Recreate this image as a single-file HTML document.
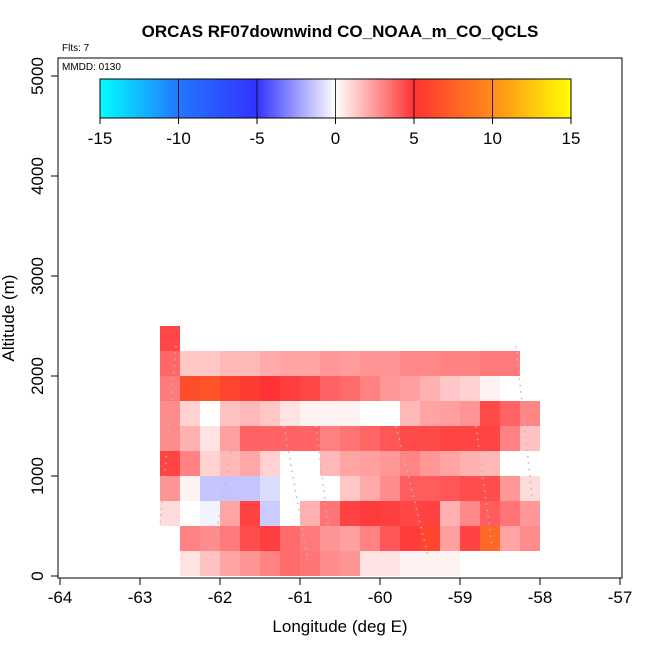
<!DOCTYPE html>
<html><head><meta charset="utf-8"><style>
body{margin:0;background:#fff;font-family:"Liberation Sans",sans-serif}
svg text{font-family:"Liberation Sans",sans-serif}
</style></head><body>
<svg id="chart" width="650" height="650" xmlns="http://www.w3.org/2000/svg">
<rect width="650" height="650" fill="#fff"/>
<text x="340" y="37" text-anchor="middle" font-size="17" font-weight="bold">ORCAS RF07downwind CO_NOAA_m_CO_QCLS</text>
<text x="62" y="51" font-size="10">Flts: 7</text>
<g id="cells"></g>
<g id="tracks"></g>
<rect x="58" y="58" width="564" height="520" fill="none" stroke="#000" stroke-width="1"/>
<text x="62" y="70" font-size="10">MMDD: 0130</text>
<g id="cbar"></g>
<g id="axes"></g>
<text x="340" y="632" text-anchor="middle" font-size="17">Longitude (deg E)</text>
<text transform="translate(14,318) rotate(-90)" text-anchor="middle" font-size="17">Altitude (m)</text>
</svg>
<script>
const lonStart=-62.75, lonStep=0.25, altStep=250;
// rows from bottom (0-250 m) to top (2250-2500 m); null = no data
const row0=[null,0.3,0.9,1.6,2,2.5,3.2,2.9,2.2,2,0.3,0.3,0.1,0.1,0.1,null,null,null,null];
const row1=[null,2.5,2.2,2.7,4.1,4.6,3.2,2.7,2,1.7,2.5,3.8,4.7,6,1.7,4.5,8,1.6,2.2];
const row2=[0.4,0,-0.1,1.6,4.5,-0.7,0,1.3,2.9,4.5,4.7,4.6,4.3,4.5,1.3,2.3,3.6,2.9,1.9];
const row3=[2,0.1,-0.8,-0.85,-0.85,-0.4,0,0,0,0.8,1.4,2.2,3.6,3.6,3.8,4.1,4.1,1.9,0.4];
const row4=[4.4,2.5,0.6,1.1,1.5,0.6,0,0,1.1,1.6,1.7,1.9,2.4,1.9,1.6,1.3,1.1,0,0];
const row5=[2.2,1.3,0.3,1.7,3.4,3.4,3.4,3.4,2.5,2.9,3.3,3.8,4.2,4.2,4.4,4.4,4.4,2.5,0.9];
const row6=[2.2,0.6,0,0.9,1.1,0.8,0.3,0.1,0.1,0.1,0,0,1.1,1.6,1.7,2,4.2,3.4,2.4];
const row7=[2.7,6.5,6.8,6,5.5,5,4.6,4.3,3.4,3.2,2.5,1.9,1.7,1.3,0.8,0.6,0.1,0,null];
const row8=[3.3,0.8,0.8,1.1,1.1,1.4,1.6,1.6,1.9,1.8,2,2,2.3,2.3,2.5,2.5,2.7,2.7,null];
const row9=[4.3,null,null,null,null,null,null,null,null,null,null,null,null,null,null,null,null,null,null];
const rows=[row0,row1,row2,row3,row4,row5,row6,row7,row8,row9];
const xTicks=[-64,-63,-62,-61,-60,-59,-58,-57];
const yTicks=[0,1000,2000,3000,4000,5000];
const cbTicks=[-15,-10,-5,0,5,10,15];

const NS="http://www.w3.org/2000/svg";
const xs=v=>60+(v+64)*80;
const ys=v=>576-v*0.1;
const cx=v=>100+(v+15)/30*471;
const stops=[[-15,[0,255,255]],[-10,[34,119,255]],[-5,[51,51,255]],[0,[255,255,255]],[5,[255,51,51]],[10,[255,140,26]],[15,[255,255,0]]];
function color(v,gam){v=Math.max(-15,Math.min(15,v));for(let i=0;i<stops.length-1;i++){const[a,ca]=stops[i],[b,cb]=stops[i+1];if(v<=b){let t=(v-a)/(b-a);if(gam&&a===0)t=Math.pow(t,0.7);if(gam&&b===0)t=1-Math.pow(1-t,0.7);const c=ca.map((x,k)=>Math.round(x+(cb[k]-x)*t));return`rgb(${c})`;}}return"rgb(255,255,0)";}
function mk(tag,attrs,parent){const e=document.createElementNS(NS,tag);for(const k in attrs)e.setAttribute(k,attrs[k]);parent.appendChild(e);return e;}

const cells=document.getElementById('cells');
rows.forEach((r,ri)=>r.forEach((v,ci)=>{if(v===null)return;
 const x0=xs(lonStart+ci*lonStep),x1=xs(lonStart+(ci+1)*lonStep);
 const y1=ys(ri*altStep),y0=ys((ri+1)*altStep);
 const e=mk('rect',{x:x0,y:y0,width:x1-x0,height:y1-y0,fill:color(v,true)},cells);
 
 
}));

// flight track hints
const tracks=document.getElementById('tracks');
[[[-62.55,2300],[-62.75,500]],[[-61.8,1500],[-62.1,200]],[[-61.2,1500],[-60.9,150]],[[-60.8,1500],[-60.6,200]],[[-59.8,1500],[-59.4,200]],[[-58.8,1500],[-58.6,300]],[[-58.3,2300],[-58.1,800]]].forEach(p=>{
 const e=mk('line',{x1:xs(p[0][0]),y1:ys(p[0][1]),x2:xs(p[1][0]),y2:ys(p[1][1]),stroke:'#bbb','stroke-width':1.5,'stroke-dasharray':'1.5 5'},tracks);
 
 
});

// colorbar
const cb=document.getElementById('cbar');
for(let i=0;i<300;i++){const v=-15+i*0.1;const e=mk('rect',{x:cx(v),y:79,width:471/300+0.4,height:39,fill:color(v+0.05,false)},cb);
 
 }
mk('rect',{x:100,y:79,width:471,height:39,fill:'none',stroke:'#000'},cb);
cbTicks.forEach(t=>{const x=cx(t);
 if(t>-15&&t<15)mk('line',{x1:x,y1:79,x2:x,y2:118,stroke:'#000','stroke-width':0.8},cb);
 mk('line',{x1:x,y1:118,x2:x,y2:124,stroke:'#000'},cb);
 const e=mk('text',{x:x,y:144,'text-anchor':'middle','font-size':17},cb);e.textContent=t;
 
 });

// axes
const ax=document.getElementById('axes');


xTicks.forEach(t=>{const x=xs(t);mk('line',{x1:x,y1:578,x2:x,y2:585,stroke:'#000'},ax);
 const e=mk('text',{x:x,y:603,'text-anchor':'middle','font-size':17},ax);e.textContent=t;
 
 });
yTicks.forEach(t=>{const y=ys(t);mk('line',{x1:58,y1:y,x2:51,y2:y,stroke:'#000'},ax);
 const e=mk('text',{transform:`translate(43,${y}) rotate(-90)`,'text-anchor':'middle','font-size':17},ax);e.textContent=t;
 
 });
</script>
</body></html>
